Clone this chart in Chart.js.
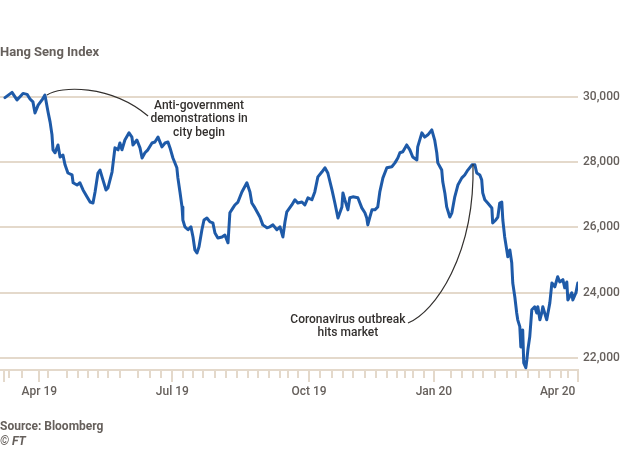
<!DOCTYPE html>
<html>
<head>
<meta charset="utf-8">
<script src="https://cdn.jsdelivr.net/npm/chart.js@4"></script>
<style>
  body{margin:0;background:#fff;font-family:Roboto,'Noto Sans',sans-serif;}
  #wrap{position:relative;width:630px;height:450px;overflow:hidden;}
  #chart{position:absolute;left:0;top:0;}
  .title{position:absolute;left:0;top:44px;font-size:13px;font-weight:700;color:#66605c;}
  .src{position:absolute;left:0;font-size:12px;font-weight:700;color:#66605c;}
</style>
</head>
<body>
<div id="wrap">
  <canvas id="chart" width="630" height="450"></canvas>
  <div class="title">Hang Seng Index</div>
  <div class="src" style="top:419px">Source: Bloomberg</div>
  <div class="src" style="top:434px;font-style:italic">© FT</div>
</div>
<script>
// Hang Seng close, x = trading days from start of window (late Mar 2019)
const days = [0.4,3.8,6.2,9.1,11.1,12.5,13.9,14.9,16.4,18.3,19.7,21.2,22.2,23.1,23.6,24.6,26.0,27.0,28.4,29.4,
  30.8,32.8,33.3,35.2,36.6,38.1,40.0,41.5,42.9,43.9,45.3,46.3,47.7,49.2,50.1,52.1,53.5,55.0,55.9,56.9,
  58.3,60.3,61.7,62.2,64.1,65.6,66.6,68.0,69.4,71.4,72.8,74.3,76.2,77.7,79.1,80.1,81.5,83.4,83.9,84.9,
  85.9,86.3,87.3,88.8,90.2,91.2,92.1,93.1,94.1,95.5,96.5,97.9,99.4,100.8,101.8,103.2,105.2,106.6,108.1,109.0,
  110.5,111.4,112.9,114.8,117.2,118.7,119.6,121.1,123.5,124.9,126.9,128.3,129.8,131.7,133.2,134.6,135.6,136.5,138.9,140.4,
  141.8,143.8,145.2,146.7,148.6,150.0,151.5,153.4,154.9,156.3,158.3,159.7,161.2,163.1,163.6,164.5,166.0,166.9,168.4,170.8,
  172.7,174.2,175.1,175.6,176.6,177.6,179.0,180.4,181.4,182.9,184.8,187.2,188.7,190.1,191.1,192.5,194.4,195.9,197.3,199.3,
  199.7,201.7,203.1,204.6,206.5,207.9,208.9,209.4,211.3,211.8,212.8,213.7,215.2,216.2,217.6,219.1,221.0,222.4,223.9,225.9,
  227.3,228.2,229.7,230.6,231.1,232.1,233.5,235.5,235.9,237.4,238.4,239.3,240.3,240.8,241.7,242.7,243.2,244.2,245.1,245.6,
  246.6,247.5,248.0,249.0,249.5,250.4,250.9,251.9,252.4,252.9,253.8,254.8,256.2,257.2,257.7,258.7,259.6,260.1,262.0,263.5,
  264.5,265.9,267.3,268.3,269.8,270.7,271.7,272.2,274.1,274.6,276.1,277.0];
const closes = [29980,30140,29910,30110,30080,29940,29850,29510,29750,29910,30060,29540,29230,28840,28380,28290,28530,28160,28220,27920,
  27670,27610,27370,27300,27370,27150,26940,26780,26750,27090,27670,27760,27460,27150,27210,27700,28440,28380,28590,28380,
  28680,28900,28770,28530,28680,28440,28130,28290,28380,28590,28620,28770,28470,28590,28620,28440,28130,27830,27520,27090,
  26630,26230,26020,25930,26020,25710,25310,25220,25410,25930,26230,26290,26170,26140,25830,25680,25710,25770,25530,26450,
  26600,26690,26780,27090,27370,27090,26750,26600,26320,26080,25990,26020,26080,25930,26020,25710,26170,26480,26690,26850,
  26750,26780,26690,26910,26850,27090,27550,27700,27830,27670,27150,26750,26290,26630,27060,26850,26540,26910,26940,26910,
  26600,26450,26290,26080,26320,26540,26540,26630,27090,27520,27830,27860,27980,28130,28290,28320,28530,28380,28160,28070,
  28470,28900,28770,28840,28990,28680,28290,27980,27760,27400,27060,26630,26320,26450,26940,27300,27520,27610,27760,27920,
  27920,27670,27610,27460,27060,26850,26750,26600,26140,26230,26320,26750,26780,26230,25710,25310,25100,25310,24920,24300,
  23870,23380,23170,22960,22340,22860,21850,21700,21940,22250,22650,23480,23570,23380,23570,23170,23380,23570,23170,23690,
  24300,24180,24490,24330,24400,24150,24330,23780,24000,23780,24000,24300];

const yTicks = [22000, 24000, 26000, 28000, 30000];
const xLabels = ['Apr 19', 'Jul 19', 'Oct 19', 'Jan 20', 'Apr 20'];
const xLabelDays = [17, 81.2, 147.2, 207.5, 267.3];
const quarterTickDays = [0, 17, 81.2, 147.2, 207.6, 277.1];
const weekTickDays = [2.5,8.5,21.3,30.2,35.8,40.6,45.5,50.3,55.9,64.8,70.4,75.7,86.5,91.3,96.1,101.8,107.1,112.3,117.9,122.7,
  128,133.2,137.2,142,152.5,158.1,163.4,168.5,174.2,179.5,184.9,189.5,193.5,197.5,202.7,216,221.2,226.2,231.3,236.9,
  242.6,247.4,253,258.3,263.5,268.8,272.3];

const grid = '#e4d9cb';
const grey = '#66605c';
const ink = '#33302e';

// annotations, anchored in data space (day, index level)
const notes = [
  {lines:['Anti-government','demonstrations in','city begin'], at:[94.1, 29724],
   curve:[[20.7,30061],[27.0,30337],[51.1,30398],[69.5,29418]]},
  {lines:['Coronavirus outbreak','hits market'], at:[166.0, 23165],
   curve:[[195.0,23073],[208.0,23410],[227.4,25157],[226.4,27946]]}
];

const weekTicks = {
  id:'weekTicks',
  afterDraw(chart){
    const {ctx, scales:{x}, chartArea} = chart;
    ctx.save();
    ctx.strokeStyle = grid; ctx.lineWidth = 2;
    const draw = (d, len) => {
      const px = Math.round(x.getPixelForValue(d));
      ctx.beginPath(); ctx.moveTo(px, chartArea.bottom); ctx.lineTo(px, chartArea.bottom + len); ctx.stroke();
    };
    weekTickDays.forEach(d => draw(d, 8));
    quarterTickDays.forEach(d => draw(d, 12));
    ctx.restore();
  }
};

const annotate = {
  id:'annotate',
  afterDatasetsDraw(chart){
    const {ctx, scales:{x, y}} = chart;
    const P = ([d, v]) => [x.getPixelForValue(d), y.getPixelForValue(v)];
    ctx.save();
    notes.forEach(n => {
      const [a, b, c, e] = n.curve.map(P);
      ctx.strokeStyle = ink; ctx.lineWidth = 1.2;
      ctx.beginPath(); ctx.moveTo(a[0], a[1]);
      ctx.bezierCurveTo(b[0], b[1], c[0], c[1], e[0], e[1]);
      ctx.stroke();
      const [tx, ty] = P(n.at);
      ctx.font = '500 12px Roboto';
      ctx.fillStyle = ink; ctx.textAlign = 'center'; ctx.textBaseline = 'middle';
      n.lines.forEach((l, i) => ctx.fillText(l, tx, ty + i * 13.5));
    });
    ctx.restore();
  }
};

new Chart(document.getElementById('chart'), {
  type:'line',
  data:{ datasets:[{
    data: days.map((d, i) => ({x:d, y:closes[i]})),
    borderColor:'#1e5aa8', borderWidth:3, pointRadius:0, tension:0,
    borderJoinStyle:'round', borderCapStyle:'round'
  }]},
  options:{
    responsive:false, animation:false,
    layout:{ padding:{top:87, left:0, right:0, bottom:0} },
    plugins:{ legend:{display:false}, tooltip:{enabled:false} },
    scales:{
      x:{
        type:'linear', min:-2, max:277.1,
        grid:{display:false, drawTicks:false},
        border:{display:true, color:grid, width:2},
        afterFit(s){ s.height = 80; },
        afterBuildTicks(s){ s.ticks = xLabelDays.map(v => ({value:v})); },
        ticks:{
          padding:15, color:grey, font:{family:'Roboto', size:12, weight:'500'},
          maxRotation:0, autoSkip:false,
          callback:(v, i) => xLabels[i]
        }
      },
      y:{
        position:'right', min:21632, max:30306,
        grid:{color:grid, lineWidth:2, drawTicks:false},
        border:{display:false},
        afterFit(s){ s.width = 52; },
        afterBuildTicks(s){ s.ticks = yTicks.map(v => ({value:v})); },
        ticks:{
          padding:5, color:grey, font:{family:'Roboto', size:12, weight:'500'},
          callback:v => v.toLocaleString('en-US')
        }
      }
    }
  },
  plugins:[weekTicks, annotate]
});
</script>
</body>
</html>
